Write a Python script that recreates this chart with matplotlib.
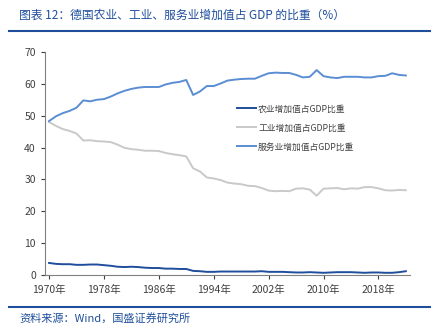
import matplotlib.pyplot as plt
from matplotlib.lines import Line2D

plt.rcParams['font.family'] = ['Noto Sans CJK SC', 'DejaVu Sans']

years = list(range(1970, 2023))

agri = [3.8, 3.5, 3.4, 3.4, 3.2, 3.2, 3.3, 3.3, 3.1, 2.9, 2.6, 2.5, 2.6, 2.5, 2.3, 2.2, 2.2, 2.0, 2.0, 1.9, 1.9,
        1.3, 1.2, 1.0, 1.0, 1.1, 1.1, 1.1, 1.1, 1.1, 1.1, 1.2, 1.0, 1.0, 1.0, 0.9, 0.8, 0.8, 0.9, 0.8, 0.7,
        0.8, 0.9, 0.9, 0.9, 0.8, 0.7, 0.8, 0.8, 0.7, 0.7, 0.9, 1.2]

industry = [48.0, 46.8, 45.8, 45.2, 44.4, 42.2, 42.3, 42.0, 41.9, 41.7, 40.9, 39.9, 39.5, 39.3, 39.0, 39.0,
            38.9, 38.3, 37.9, 37.6, 37.2, 33.5, 32.5, 30.6, 30.3, 29.8, 29.0, 28.7, 28.5, 28.0, 27.9, 27.3,
            26.5, 26.3, 26.4, 26.3, 27.1, 27.2, 26.8, 24.9, 27.1, 27.2, 27.3, 26.9, 27.2, 27.1, 27.6, 27.6,
            27.2, 26.6, 26.5, 26.7, 26.6]

services = [48.3, 49.8, 50.8, 51.5, 52.5, 54.8, 54.5, 55.0, 55.2, 56.0, 57.0, 57.8, 58.4, 58.8, 59.0, 59.0,
            59.0, 59.8, 60.3, 60.6, 61.2, 56.5, 57.6, 59.3, 59.3, 60.1, 61.0, 61.3, 61.5, 61.6, 61.6, 62.5,
            63.3, 63.5, 63.4, 63.4, 62.8, 62.0, 62.2, 64.3, 62.4, 62.0, 61.8, 62.2, 62.2, 62.2, 62.0, 62.0,
            62.4, 62.5, 63.3, 62.8, 62.6]

labels = ['农业增加值占GDP比重', '工业增加值占GDP比重', '服务业增加值占GDP比重']
colors = ['#1F4E9C', '#C9C9C9', '#5B8DD3']
xticks = list(range(1970, 2023, 8))
yticks = list(range(0, 71, 10))

fig = plt.figure(figsize=(4.32, 3.35), dpi=100)
ax = fig.add_axes([0.104, 0.179, 0.845, 0.666])

for vals, lab, c in zip([agri, industry, services], labels, colors):
    ax.plot(years, vals, color=c, lw=1.4, label=lab)

ax.set_xlim(1969.4, 2022.6)
ax.set_ylim(0, 70)
ax.set_xticks(xticks)
ax.set_xticklabels([f'{y}年' for y in xticks])
ax.set_yticks(yticks)
ax.tick_params(axis='both', labelsize=7.5, colors='#404040', length=3, width=0.8)
ax.tick_params(axis='x', pad=4)
for side in ['top', 'right']:
    ax.spines[side].set_visible(False)
for side in ['left', 'bottom']:
    ax.spines[side].set_color('#808080')

leg = ax.legend(loc='upper left', bbox_to_anchor=(0.505, 0.80), frameon=False, fontsize=6.3,
                handlelength=2.2, handletextpad=0.2, labelspacing=1.15)
for t in leg.get_texts():
    t.set_color('#404040')

# header and footer
fig.text(0.045, 0.955, '图表 12：德国农业、工业、服务业增加值占 GDP 的比重（%）', fontsize=8.5,
         color='#1F4E9C', ha='left', va='center', style='italic')
fig.add_artist(Line2D([0.02, 0.995], [0.907, 0.907], color='#1F4E9C', lw=1.5))
fig.add_artist(Line2D([0.02, 0.995], [0.083, 0.083], color='#1F4E9C', lw=1.5))
fig.text(0.045, 0.05, '资料来源：Wind，国盛证券研究所', fontsize=8, color='#1F4E9C', ha='left', va='center',
         style='italic')

fig.savefig('out.png', dpi=100)
